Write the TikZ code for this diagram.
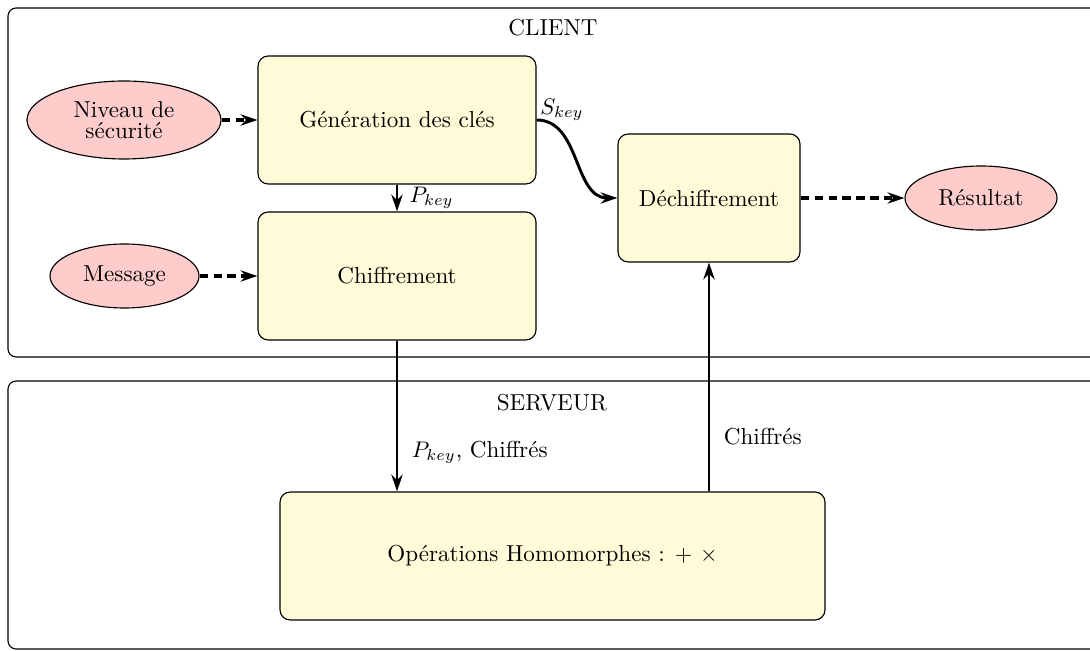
\documentclass[tikz,border=0pt]{standalone}
\usetikzlibrary{shapes.geometric,arrows.meta,positioning}
\newdimen\pxu \pxu=0.444pt
\definecolor{boxyellow}{RGB}{255,250,215}
\definecolor{ellpink}{RGB}{255,204,204}
\begin{document}
\begin{tikzpicture}[x=\pxu,y=-\pxu,
  every node/.style={font=\fontsize{10.25pt}{12pt}\selectfont},
  frame/.style={draw=black,line width=0.5pt,rounded corners=3.6pt},
  procbox/.style={draw=black,line width=0.5pt,fill=boxyellow,rounded corners=4.5pt,inner sep=0pt,align=center},
  ioell/.style={ellipse,draw=black,line width=0.5pt,fill=ellpink,inner sep=0pt,align=center},
  flow/.style={line width=1.3pt,-{Stealth[length=7.5pt,width=5pt]}},
  dflow/.style={line width=1.5pt,dash pattern=on 3.6pt off 2.6pt,-{Stealth[length=7.5pt,width=5pt]}}]
\useasboundingbox (0,0) rectangle (1090,651);
\clip (0,0) rectangle (1090,651);
% frames
\draw[frame] (8,8) rectangle (1120,357);
\draw[frame] (8,381) rectangle (1120,649);
\node (client) at (553,28) {CLIENT};
\node (serveur) at (552,403) {SERVEUR};
% nodes
\node[ioell,minimum width=194\pxu,minimum height=78\pxu] (niv) at (124,120) {Niveau de\\[-3pt]sécurité};
\node[procbox,minimum width=278\pxu,minimum height=128\pxu] (gen) at (397,120) {Génération des clés};
\node[procbox,minimum width=278\pxu,minimum height=128\pxu] (chif) at (397,276) {Chiffrement};
\node[ioell,minimum width=149\pxu,minimum height=64\pxu] (msg) at (124.5,276) {Message};
\node[procbox,minimum width=182\pxu,minimum height=128\pxu] (dec) at (709,198) {Déchiffrement};
\node[ioell,minimum width=152\pxu,minimum height=64\pxu] (res) at (981,198) {Résultat};
\node[procbox,minimum width=545\pxu,minimum height=128\pxu] (op) at (552.5,556) {Opérations Homomorphes : $+\ \times$};
% connectors
\draw[dflow] (niv) -- (gen);
\draw[dflow] (msg) -- (chif);
\draw[dflow] (dec) -- (res);
\draw[flow] (gen.south) -- node[right,inner sep=5pt] {$P_{key}$} (chif.north);
\draw[flow] (gen.east) to[out=0,in=180] node[pos=0,above right,inner sep=1pt,yshift=-2pt] {$S_{key}$} (dec.west);
\draw[flow] (chif.south) -- node[pos=0.74,right,inner sep=6pt] {$P_{key}$, Chiffrés} (chif.south |- op.north);
\draw[flow] (dec.south |- op.north) -- node[pos=0.24,right,inner sep=6pt] {Chiffrés} (dec.south);
\end{tikzpicture}
\end{document}
